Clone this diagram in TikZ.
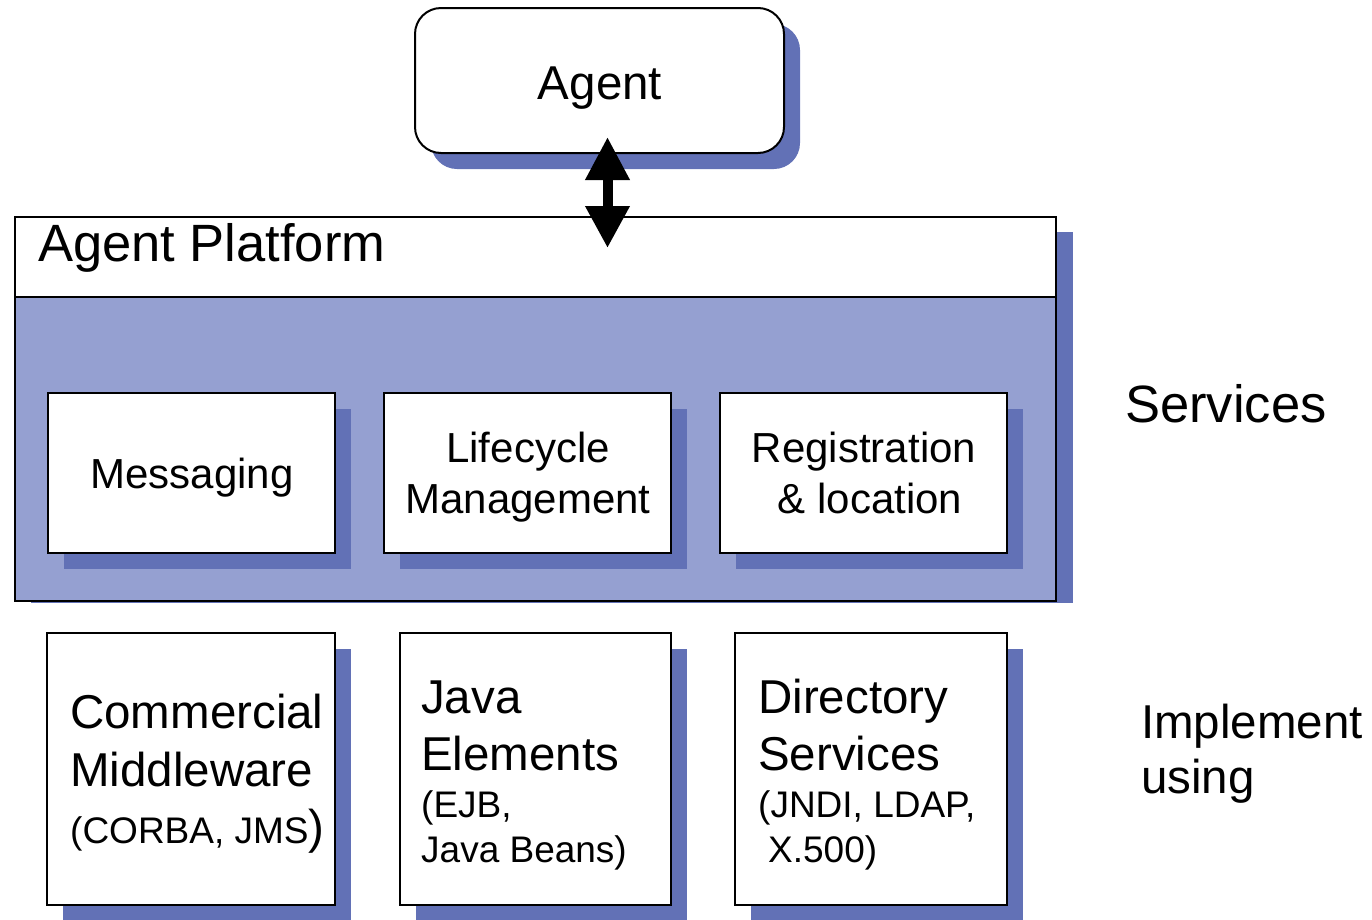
\documentclass[tikz,border=0pt]{standalone}
\usepackage{fontspec}
\setmainfont{Liberation Sans}
\usetikzlibrary{arrows.meta,shadows}
\definecolor{paleblue}{RGB}{149,160,209}
\definecolor{shadeblue}{RGB}{98,113,182}
\newcommand{\fsz}[1]{\fontsize{#1}{#1}\selectfont}
\begin{document}
\begin{tikzpicture}[x=1pt,y=-1pt,inner sep=0pt,
  boxshadow/.style={drop shadow={shadow xshift=16pt,shadow yshift=-16pt,fill=shadeblue,opacity=1}},
  whitebox/.style={draw=black,line width=2pt,fill=white,inner sep=0pt,outer sep=0pt,anchor=north west,boxshadow},
  svcbox/.style={whitebox,minimum width=287pt,minimum height=160pt},
  implbox/.style={whitebox,minimum height=272pt},
  svctext/.style={anchor=base,font=\fsz{42}},
  bigtext/.style={anchor=base west,font=\fsz{47.5}},
  smalltext/.style={anchor=base west,font=\fsz{37}},
  labeltext/.style={anchor=base west,font=\fsz{52.5}},
  plainbox/.style={draw=black,line width=2pt,anchor=north west,outer sep=0pt,inner sep=0pt}
]
\useasboundingbox (0,0) rectangle (1372,919);

% Agent
\node[whitebox,rounded corners=26pt,minimum width=369pt,minimum height=145pt] (agent) at (415,8) {};
\node[anchor=base,font=\fsz{47.5}] (agentlbl) at (600,99) {Agent};

% Agent platform
\fill[shadeblue] (31,232) rectangle (1073,603);
\node[plainbox,fill=paleblue,minimum width=1041pt,minimum height=384pt] (platform) at (15,217) {};
\node[plainbox,fill=white,minimum width=1041pt,minimum height=80pt] (plathead) at (15,217) {};
\node[labeltext] (platlbl) at (38,261) {Agent Platform};
\node[labeltext] (services) at (1125,422) {Services};

% Service boxes
\node[svcbox] (msg) at (48,393) {};
\node[svcbox] (life) at (384,393) {};
\node[svcbox] (reg) at (720,393) {};
\node[svctext] (msgl) at (192,488) {Messaging};
\node[svctext] (lifel1) at (528,462) {Lifecycle};
\node[svctext] (lifel2) at (528,513) {Management};
\node[svctext] (regl1) at (864,462) {Registration};
\node[svctext] (regl2) at (870,513) {\& location};

% Implementation boxes
\node[implbox,minimum width=288pt] (corba) at (47,633) {};
\node[implbox,minimum width=271pt] (java) at (400,633) {};
\node[implbox,minimum width=272pt] (dir) at (735,633) {};

\node[bigtext] (c1) at (70,728) {Commercial};
\node[bigtext] (c2) at (70,786) {Middleware};
\node[anchor=base west] (c3) at (70,843) {\fsz{37}(CORBA, JMS\fsz{47.5})};

\node[bigtext] (j1) at (421,713) {Java};
\node[bigtext] (j2) at (421,770) {Elements};
\node[smalltext] (j3) at (421,817) {(EJB,};
\node[smalltext] (j4) at (421,862) {Java Beans)};

\node[bigtext] (d1) at (758,713) {Directory};
\node[bigtext] (d2) at (758,770) {Services};
\node[smalltext] (d3) at (758,817) {(JNDI, LDAP,};
\node[smalltext] (d4) at (768,862) {X.500)};

\node[bigtext] (impl1) at (1141,738) {Implement};
\node[bigtext] (impl2) at (1141,793) {using};

% Arrow
\coordinate (arrtop) at (607.5,137);
\coordinate (arrbot) at (607.5,248);
\draw[line width=10pt,{Triangle[length=43pt,width=42pt]}-{Triangle[length=42pt,width=42pt]}] (arrtop) -- (arrbot);
\end{tikzpicture}
\end{document}
